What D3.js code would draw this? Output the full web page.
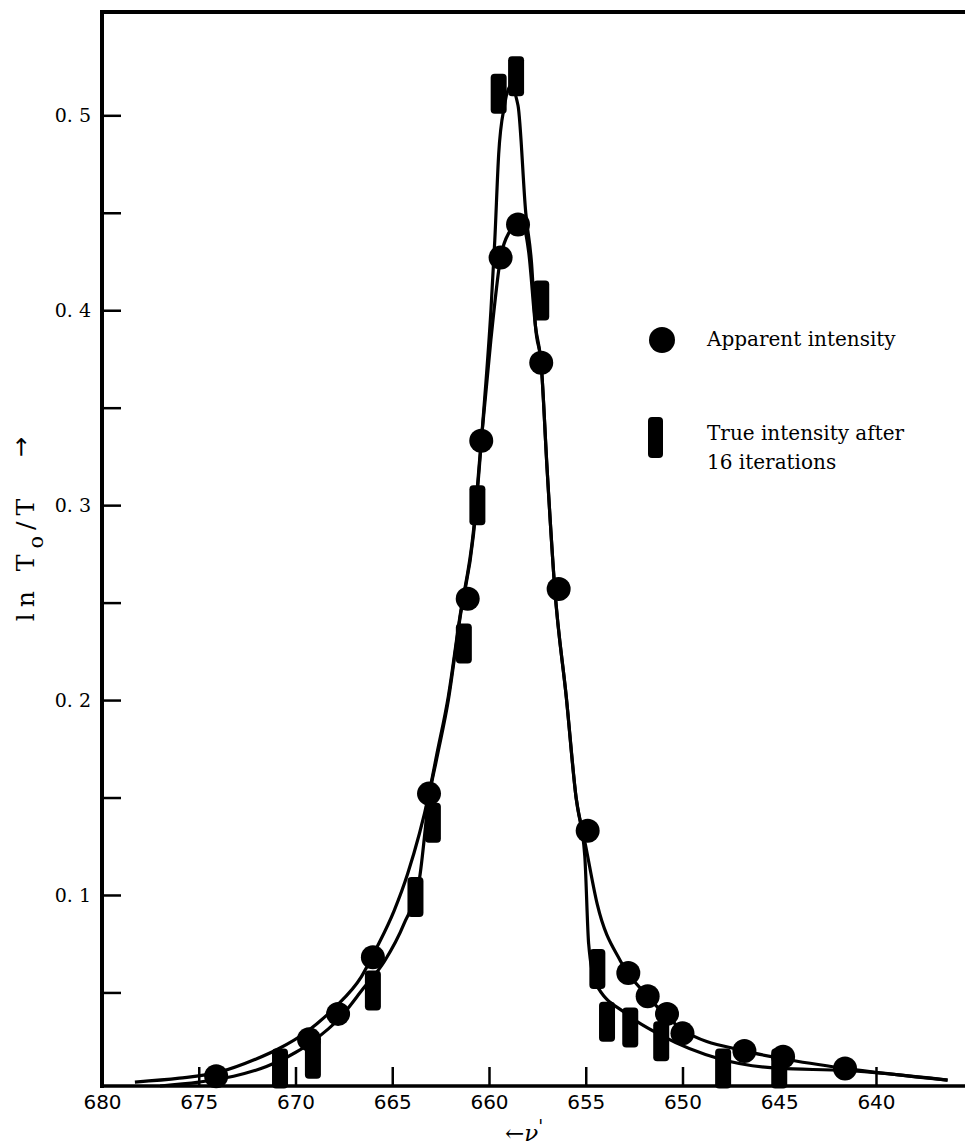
<!DOCTYPE html>
<html>
<head>
<meta charset="utf-8">
<script src="https://cdn.jsdelivr.net/npm/d3@7"></script>
<style>
  body { margin: 0; background: #fff; }
  svg { display: block; }
</style>
</head>
<body>
<script>
var w = 965;
var h = 1146;

// wavenumber ticks (reversed axis) and absorbance ticks
var xTicks = [680, 675, 670, 665, 660, 655, 650, 645, 640];
var yTicks = [0.05, 0.1, 0.15, 0.2, 0.25, 0.3, 0.35, 0.4, 0.45, 0.5];
var yTickLabels = ["", "0. 1", "", "0. 2", "", "0. 3", "", "0. 4", "", "0. 5"];

// apparent intensity (circles)
var apparentPts = [
  [674.1, 0.007], [669.3, 0.026], [667.8, 0.039], [666.0, 0.068],
  [663.1, 0.152], [661.1, 0.252], [660.4, 0.333], [659.4, 0.427],
  [658.5, 0.444], [657.3, 0.373], [656.4, 0.257], [654.9, 0.133],
  [652.8, 0.060], [651.8, 0.048], [650.8, 0.039], [650.0, 0.029],
  [646.8, 0.020], [644.8, 0.017], [641.6, 0.011]
];

// true intensity after 16 iterations (bars)
var truePts = [
  [670.8, 0.011], [669.1, 0.016], [666.0, 0.051], [663.8, 0.099],
  [662.9, 0.137], [661.3, 0.229], [660.6, 0.300], [659.5, 0.511],
  [658.6, 0.520], [657.3, 0.405], [654.4, 0.062], [653.9, 0.035],
  [652.7, 0.032], [651.1, 0.025], [647.9, 0.011], [645.0, 0.011]
];

// hand drawn curves
var apparentCurve = [
  [678.3, 0.004], [676.0, 0.006], [674.0, 0.009], [672.0, 0.016],
  [670.9, 0.021], [669.4, 0.030], [668.0, 0.042], [666.6, 0.058],
  [665.8, 0.073], [664.9, 0.092], [664.2, 0.111], [663.1, 0.152],
  [662.7, 0.172], [662.1, 0.202], [661.5, 0.243], [660.8, 0.287],
  [660.4, 0.333], [659.9, 0.385], [659.4, 0.427], [658.9, 0.441],
  [658.4, 0.447], [657.95, 0.430], [657.6, 0.392], [657.3, 0.372],
  [657.0, 0.319], [656.6, 0.257], [656.0, 0.201], [655.5, 0.150],
  [655.0, 0.125], [654.4, 0.095], [653.2, 0.066], [651.8, 0.048],
  [650.0, 0.031], [646.8, 0.020], [644.8, 0.016], [641.6, 0.011],
  [636.3, 0.005]
];

var trueCurve = [
  [677.0, 0.002], [675.0, 0.004], [673.2, 0.007], [671.5, 0.012],
  [670.4, 0.017], [669.1, 0.025], [667.7, 0.037], [666.5, 0.052],
  [665.4, 0.066], [664.4, 0.085], [663.6, 0.108], [663.1, 0.150],
  [662.7, 0.170], [662.1, 0.200], [661.5, 0.242], [660.8, 0.285],
  [660.3, 0.345], [659.9, 0.400], [659.7, 0.436], [659.5, 0.480],
  [659.2, 0.505], [658.9, 0.515], [658.5, 0.505], [658.1, 0.450],
  [657.8, 0.424], [657.6, 0.392], [657.3, 0.372], [657.0, 0.319],
  [656.6, 0.257], [656.0, 0.201], [655.5, 0.150], [655.05, 0.120],
  [654.85, 0.075], [654.5, 0.055], [652.9, 0.039], [651.1, 0.028],
  [648.1, 0.016], [645.0, 0.011], [641.6, 0.010], [636.3, 0.005]
];

var x = d3.scaleLinear().domain([680, 635.4]).range([102, 965]);
var y = d3.scaleLinear().domain([0.002, 0.553]).range([1086, 12]);

var svg = d3.select("body")
  .append("svg")
  .attr("width", w)
  .attr("height", h);

svg.append("rect")
  .attr("width", "100%")
  .attr("height", "100%")
  .attr("fill", "#fff");

// frame: top, left, bottom
svg.append("line")
  .attr("x1", x(680)).attr("x2", w)
  .attr("y1", y.range()[1]).attr("y2", y.range()[1])
  .style("stroke", "#000").style("stroke-width", 4);
svg.append("line")
  .attr("x1", x(680)).attr("x2", x(680))
  .attr("y1", y.range()[1] - 2).attr("y2", y.range()[0] + 2)
  .style("stroke", "#000").style("stroke-width", 4);
svg.append("line")
  .attr("x1", x(680)).attr("x2", w)
  .attr("y1", y.range()[0]).attr("y2", y.range()[0])
  .style("stroke", "#000").style("stroke-width", 3.5);

// y axis, ticks pointing inward
var yAxis = svg.append("g")
  .attr("transform", "translate(" + x(680) + ",0)")
  .call(d3.axisLeft(y)
    .tickValues(yTicks)
    .tickSizeInner(-19)
    .tickSizeOuter(0)
    .tickPadding(11)
    .tickFormat(function(d, i) { return yTickLabels[i]; }));
yAxis.select(".domain").remove();
yAxis.selectAll(".tick line").style("stroke", "#000").style("stroke-width", 2.5);
yAxis.selectAll(".tick text")
  .style("font-family", "'DejaVu Serif', serif")
  .style("font-size", "19px")
  .attr("fill", "#000");

// x axis, ticks pointing inward
var xAxis = svg.append("g")
  .attr("transform", "translate(0," + y.range()[0] + ")")
  .call(d3.axisBottom(x)
    .tickValues(xTicks)
    .tickSizeInner(-19)
    .tickSizeOuter(0)
    .tickPadding(9)
    .tickFormat(d3.format("d")));
xAxis.select(".domain").remove();
xAxis.selectAll(".tick line").style("stroke", "#000").style("stroke-width", 2.5);
xAxis.selectAll(".tick text")
  .style("font-family", "'DejaVu Sans', sans-serif")
  .style("font-size", "20px")
  .attr("fill", "#000");

// curves
var line = d3.line()
  .x(function(d) { return x(d[0]); })
  .y(function(d) { return y(d[1]); })
  .curve(d3.curveMonotoneX);

svg.selectAll("path.curve")
  .data([apparentCurve, trueCurve])
  .enter()
  .append("path")
  .attr("class", "curve")
  .attr("d", line)
  .style("fill", "none")
  .style("stroke", "#000")
  .style("stroke-width", 3.2);

// true intensity bars
svg.selectAll("rect.bar")
  .data(truePts)
  .enter()
  .append("rect")
  .attr("class", "bar")
  .attr("x", function(d) { return x(d[0]) - 8; })
  .attr("y", function(d) { return y(d[1]) - 20; })
  .attr("width", 16)
  .attr("height", 40)
  .attr("rx", 4)
  .style("fill", "#000");

// apparent intensity dots
svg.selectAll("circle.dot")
  .data(apparentPts)
  .enter()
  .append("circle")
  .attr("class", "dot")
  .attr("cx", function(d) { return x(d[0]); })
  .attr("cy", function(d) { return y(d[1]); })
  .attr("r", 12)
  .style("fill", "#000");

// legend
var legend = svg.append("g").style("font-family", "'DejaVu Serif', serif").style("font-size", "20px");
legend.append("circle").attr("cx", 662).attr("cy", 340).attr("r", 13).style("fill", "#000");
legend.append("text").attr("x", 707).attr("y", 346).text("Apparent intensity");
legend.append("rect").attr("x", 648).attr("y", 417).attr("width", 15).attr("height", 41).attr("rx", 4).style("fill", "#000");
legend.append("text").attr("x", 707).attr("y", 440).text("True intensity after");
legend.append("text").attr("x", 707).attr("y", 469).text("16 iterations");

// axis titles
var yTitle = svg.append("text")
  .attr("transform", "translate(34,557) rotate(-90)")
  .attr("text-anchor", "middle")
  .style("font-family", "'DejaVu Serif', serif")
  .style("font-size", "25px")
  .style("letter-spacing", "6px");
yTitle.append("tspan").text("ln T");
yTitle.append("tspan").attr("dy", 9).style("font-size", "21px").text("o");
yTitle.append("tspan").attr("dy", -9).text("/T");

svg.append("text")
  .attr("transform", "translate(29,447) rotate(-90)")
  .attr("text-anchor", "middle")
  .style("font-family", "'DejaVu Sans', sans-serif")
  .style("font-size", "24px")
  .text("\u2192");

var xTitle = svg.append("text")
  .attr("x", 505)
  .attr("y", 1141)
  .style("font-family", "'DejaVu Serif', serif")
  .style("font-size", "23px");
xTitle.append("tspan").text("\u2190");
xTitle.append("tspan").style("font-style", "italic").text("\u03bd");
xTitle.append("tspan").attr("dy", -8).style("font-size", "18px").text("'");
</script>
</body>
</html>
